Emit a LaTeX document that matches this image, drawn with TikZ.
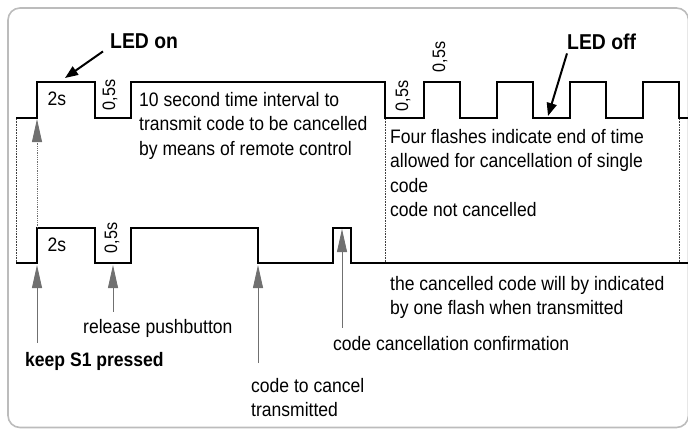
\documentclass[tikz,border=0pt]{standalone}
\usepackage{fontspec}
\setmainfont{Liberation Sans}[FakeStretch=0.9]
\usepackage{tikz}
\usetikzlibrary{arrows.meta,positioning}
\definecolor{framegray}{RGB}{188,188,188}
\definecolor{pointgray}{RGB}{112,112,112}

\begin{document}
\begin{tikzpicture}[x=1pt, y=-1pt,
    every node/.style={font=\fontsize{19.5}{24.5}\selectfont, inner sep=0pt},
    signal/.style={line width=2.4pt},
    guide/.style={densely dotted, line width=0.6pt, black!75},
    pointer/.style={pointgray, line width=0.8pt, -{Triangle[length=23pt,width=10pt]}},
    callout/.style={line width=2pt, -{Triangle[length=13pt,width=10pt]}},
    note/.style={align=left, anchor=north west},
    boldnote/.style={font=\fontsize{19.5}{24}\selectfont\bfseries, anchor=base west},
    ledlabel/.style={boldnote, font=\fontsize{21.5}{24}\selectfont\bfseries},
    dur/.style={font=\fontsize{18}{20}\selectfont, rotate=90}]
      \useasboundingbox (0,0) rectangle (688,429);
      \draw[framegray, line width=1.6pt, rounded corners=12pt] (8,8) rectangle (688.5,427.5);

      \draw[signal] (16,118) -| (37,82) -| (95,118) -| (131,82) -| (385,118)
        foreach \x in {424,497,570,643} { -| (\x,82) -| ({\x+36},118) } -- (690,118);
      \draw[signal] (16,263) -| (37,228) -| (95,263) -| (131,228) -| (258,263)
        -| (333,228) -| (351,263) -- (690,263);

      \foreach \x in {16,385,679} {
        \draw[guide] (\x,119) -- (\x,262);
      }

      \coordinate (onAt) at (65,78);
      \coordinate (offAt) at (548,116);
      \coordinate (topRise) at (37,119);
      \coordinate (botRise) at (37,228);
      \coordinate (keepAt) at (37,265);
      \coordinate (releaseAt) at (113,265);
      \coordinate (cancelAt) at (258,265);
      \coordinate (confirmAt) at (342,229);

      \node (twoTop) at (57,99) {2s};
      \node (twoBot) at (57,245) {2s};
      \node[dur] (halfTop) at (110,95) {0,5s};
      \node[dur] (halfBot) at (112,238) {0,5s};
      \node[dur] (halfOff) at (403,96) {0,5s};
      \node[dur] (halfOn) at (440,57) {0,5s};

      \node[ledlabel] (ledOn) at (110,48) {LED on};
      \node[ledlabel] (ledOff) at (567,49) {LED off};
      \draw[callout] ([shift={(-7,3)}]ledOn.south west) -- (onAt);
      \draw[callout] ([shift={(0,4)}]ledOff.south west) -- (offAt);

      \node[note] (interval) at (139,92) {10 second time interval to\\transmit code to be cancelled\\by means of remote control};
      \node[note] (flashes) at (390,129) {Four flashes indicate end of time\\allowed for cancellation of single\\code\\code not cancelled};
      \node[note] (oneFlash) at (390,276) {the cancelled code will by indicated\\by one flash when transmitted};

      \node[boldnote] (keep) at (25,366) {keep S1 pressed};
      \node[anchor=base west] (release) at (83,333) {release pushbutton};
      \node[note] (cancel) at (251,378) {code to cancel\\transmitted};
      \node[anchor=base west] (confirm) at (333,350) {code cancellation confirmation};

      \draw[pointer, densely dotted] (botRise) -- (topRise);
      \draw[pointer] ([yshift=9pt]keep.north -| keepAt) -- (keepAt);
      \draw[pointer] ([yshift=7pt]release.north -| releaseAt) -- (releaseAt);
      \draw[pointer] ([yshift=15pt]cancel.north -| cancelAt) -- (cancelAt);
      \draw[pointer] ([yshift=8pt]confirm.north -| confirmAt) -- (confirmAt);
    \end{tikzpicture}
\end{document}
